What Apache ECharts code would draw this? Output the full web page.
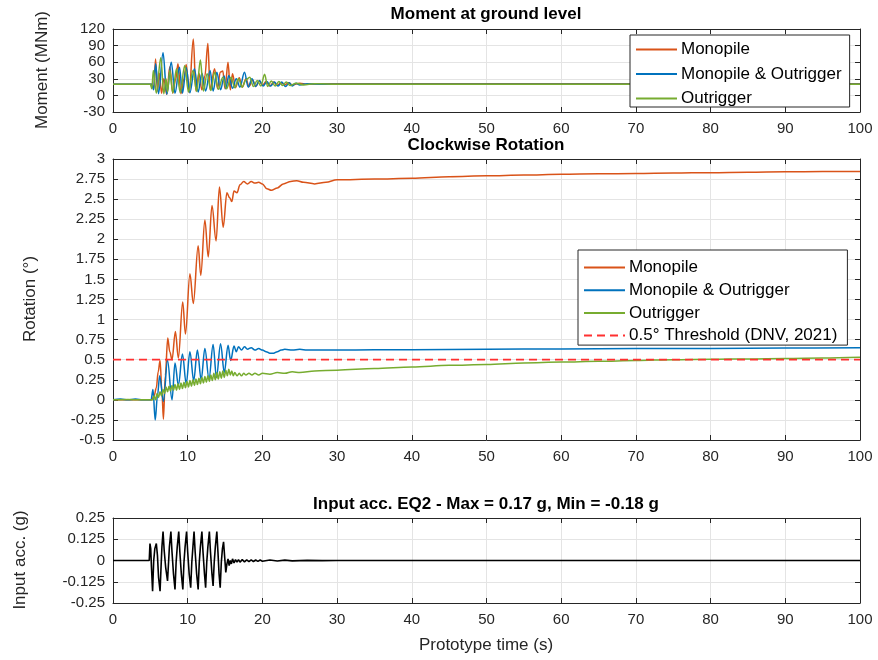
<!DOCTYPE html>
<html>
<head>
<meta charset="utf-8">
<script src="https://cdn.jsdelivr.net/npm/echarts@6/dist/echarts.min.js"></script>
<style>
  html, body { margin: 0; padding: 0; background: #fff; }
  #chart { width: 878px; height: 660px; }
</style>
</head>
<body>
<div id="chart"></div>
<script>
// time axis shared by the three panels
const timeTicks = { min: 0, max: 100, interval: 10 };
const momentTicks = { min: -30, max: 120, interval: 30 };
const rotationTicks = { min: -0.5, max: 3, interval: 0.25 };
const accTicks = { min: -0.25, max: 0.25, interval: 0.125 };

const seriesNames = ["Monopile", "Monopile & Outrigger", "Outrigger", "0.5° Threshold (DNV, 2021)"];

// moment at ground level (MNm), [time s, value]
const momentMono = [[0,20],[5.2,20],[5.45,12],[5.7,66],[5.95,8],[6.2,40],[6.5,4],[6.8,30],[7.2,2],[7.6,52],[8.0,4],[8.4,30],[8.7,57],[9.1,3],[9.5,30],[9.8,56],[10.2,5],[10.75,102],[11.1,8],[11.5,40],[11.9,10],[12.3,35],[12.7,94],[13.0,10],[13.6,48],[14.0,12],[14.35,42],[14.7,44],[15.0,12],[15.4,60],[15.7,10],[16.0,39],[16.4,14],[16.9,32],[17.3,15],[17.8,30],[18.2,16],[18.7,28],[19.1,16],[19.6,26],[20.0,18],[20.5,25],[21,17],[21.5,24],[22,18],[22.5,23],[23,19],[23.5,23],[24,19],[25,22],[26,20],[28,21],[30,21],[40,21],[50,21],[60,21],[70,21],[80,21],[90,21],[100,21]];
const momentBoth = [[0,20],[5.2,20],[5.45,10],[5.7,57],[6.1,3],[6.7,77],[7.2,2],[7.8,60],[8.3,4],[8.9,51],[9.3,4],[9.8,50],[10.3,5],[10.9,48],[11.4,6],[11.9,40],[12.4,8],[13.0,45],[13.4,8],[13.9,42],[14.4,10],[14.9,35],[15.1,12],[15.5,36],[16.0,13],[16.5,30],[17.0,15],[17.6,42],[18.1,15],[18.6,30],[19.1,16],[19.6,27],[20.1,17],[20.6,25],[21.1,17],[21.6,24],[22.1,17],[22.6,24],[23.1,16],[23.6,23],[24.0,17],[24.5,22],[25,19],[26,21],[28,20],[30,20],[40,20],[50,20],[60,20],[70,20],[80,20],[90,20],[100,20]];
const momentOut = [[0,20],[5.0,20],[5.2,12],[5.4,45],[5.8,4],[6.4,68],[6.8,3],[7.1,30],[7.3,6],[7.6,45],[8.0,5],[8.5,48],[9.0,5],[9.6,54],[10.1,6],[10.7,45],[11.2,7],[11.7,64],[12.1,8],[12.6,39],[13.1,9],[13.6,42],[14.1,11],[14.7,33],[15.2,12],[15.8,33],[16.3,14],[16.8,30],[17.3,15],[17.8,28],[18.3,33],[18.8,16],[19.3,27],[19.8,17],[20.3,38],[20.7,16],[21.2,26],[21.7,17],[22.2,25],[22.7,18],[23.2,24],[23.7,18],[24.5,22],[25.5,19],[27,21],[30,20],[40,20],[50,20],[60,20],[70,20],[80,20],[90,20],[100,20]];

// clockwise rotation (deg), [time s, value]
const rotMono = [[0,0],[5.2,0],[5.5,0.05],[5.8,0.15],[6.05,0.35],[6.3,0.49],[6.55,0.1],[6.75,-0.24],[7.0,0.3],[7.33,0.77],[7.6,0.6],[7.9,0.5],[8.35,0.85],[8.75,0.52],[9.33,1.22],[9.7,0.82],[10.3,1.57],[10.75,1.2],[11.4,1.92],[11.75,1.55],[12.3,2.24],[12.75,1.78],[13.25,2.42],[13.8,1.98],[14.25,2.65],[14.75,2.15],[15.25,2.58],[15.6,2.52],[15.9,2.47],[16.2,2.6],[16.6,2.58],[17.0,2.68],[17.5,2.72],[18.0,2.69],[18.5,2.72],[19.0,2.7],[19.5,2.71],[20.0,2.69],[20.6,2.63],[21.2,2.61],[22.0,2.64],[22.8,2.69],[23.8,2.72],[24.6,2.73],[25.5,2.71],[27,2.69],[28.5,2.71],[30,2.74],[35,2.75],[40,2.76],[45,2.78],[50,2.79],[55,2.8],[60,2.81],[65,2.815],[70,2.82],[75,2.825],[80,2.83],[85,2.835],[90,2.84],[95,2.845],[100,2.845]];
const rotBoth = [[0,0],[1,0.01],[2,0],[3,0.01],[4,0],[5.1,0],[5.35,0.13],[5.65,-0.25],[5.95,0.05],[6.25,0.3],[6.75,-0.02],[7.3,0.49],[7.9,0.0],[8.3,0.46],[8.75,0.18],[9.3,0.57],[9.8,0.2],[10.3,0.6],[10.8,0.24],[11.3,0.62],[11.8,0.25],[12.3,0.64],[12.85,0.26],[13.4,0.69],[13.85,0.28],[14.4,0.7],[14.9,0.34],[15.4,0.68],[15.75,0.49],[16.2,0.67],[16.5,0.6],[16.8,0.66],[17.2,0.62],[17.6,0.66],[18,0.63],[18.5,0.65],[19,0.62],[19.5,0.64],[20,0.62],[20.5,0.6],[21,0.58],[21.5,0.58],[22,0.6],[22.5,0.62],[23,0.63],[24,0.62],[25,0.63],[26,0.62],[28,0.62],[30,0.62],[35,0.625],[40,0.625],[50,0.63],[60,0.635],[70,0.64],[80,0.64],[90,0.645],[100,0.65]];
const rotOut = [[0,0],[2,0.005],[4,0],[5.3,0],[5.5,0.05],[5.7,0.0],[5.9,0.08],[6.1,0.03],[6.3,0.1],[6.5,0.05],[6.7,0.13],[6.9,0.08],[7.1,0.16],[7.3,0.1],[7.5,0.17],[7.7,0.11],[7.9,0.18],[8.1,0.12],[8.3,0.19],[8.5,0.12],[8.7,0.2],[8.9,0.13],[9.1,0.21],[9.3,0.14],[9.5,0.22],[9.7,0.15],[9.9,0.23],[10.1,0.16],[10.3,0.24],[10.5,0.17],[10.7,0.25],[10.9,0.18],[11.1,0.26],[11.3,0.19],[11.5,0.27],[11.7,0.2],[11.9,0.28],[12.1,0.21],[12.3,0.29],[12.5,0.22],[12.7,0.3],[12.9,0.23],[13.1,0.31],[13.3,0.24],[13.5,0.33],[13.7,0.25],[13.9,0.34],[14.1,0.26],[14.3,0.35],[14.5,0.27],[14.7,0.36],[14.9,0.28],[15.1,0.37],[15.3,0.3],[15.5,0.38],[15.7,0.31],[15.9,0.36],[16.1,0.3],[16.3,0.34],[16.6,0.3],[16.9,0.33],[17.2,0.3],[17.5,0.33],[17.8,0.31],[18.2,0.33],[18.6,0.31],[19,0.33],[19.5,0.31],[20,0.33],[21,0.32],[22,0.34],[23,0.33],[24,0.35],[25,0.34],[27,0.36],[30,0.37],[35,0.39],[40,0.41],[45,0.43],[50,0.44],[55,0.46],[60,0.47],[65,0.48],[70,0.49],[75,0.5],[80,0.505],[85,0.51],[90,0.515],[95,0.52],[100,0.53]];
const rotThreshold = [[0,0.5],[100,0.5]];

// input acceleration (g), [time s, value]
const inputAcc = [[0,0],[4.85,0],[4.95,0.1],[5.05,0.07],[5.15,-0.04],[5.3,-0.18],[5.45,0.0],[5.6,0.07],[5.8,0.1],[5.95,0.03],[6.1,-0.1],[6.3,-0.18],[6.45,-0.02],[6.55,0.08],[6.7,0.17],[6.85,0.06],[7.05,-0.04],[7.3,-0.12],[7.45,0.0],[7.55,0.08],[7.75,0.17],[7.9,0.05],[8.1,-0.08],[8.3,-0.17],[8.45,-0.01],[8.6,0.08],[8.8,0.17],[8.95,0.05],[9.15,-0.08],[9.35,-0.17],[9.5,-0.01],[9.65,0.08],[9.85,0.17],[10.0,0.05],[10.2,-0.08],[10.4,-0.16],[10.55,-0.01],[10.7,0.08],[10.85,0.17],[11.0,0.05],[11.2,-0.08],[11.4,-0.17],[11.55,-0.01],[11.7,0.08],[11.9,0.17],[12.05,0.05],[12.25,-0.08],[12.4,-0.16],[12.55,-0.01],[12.7,0.08],[12.9,0.17],[13.05,0.05],[13.25,-0.08],[13.4,-0.15],[13.55,-0.01],[13.7,0.08],[13.9,0.17],[14.05,0.05],[14.2,-0.08],[14.35,-0.16],[14.5,-0.01],[14.65,0.07],[14.8,0.11],[14.95,0.02],[15.1,-0.07],[15.25,-0.02],[15.4,0.01],[15.55,-0.03],[15.7,0.0],[15.85,-0.02],[16.0,0.01],[16.2,-0.015],[16.4,0.005],[16.6,-0.01],[16.8,0.005],[17.0,-0.01],[17.3,0.005],[17.6,-0.008],[17.9,0.004],[18.2,-0.006],[18.5,0.004],[18.8,-0.006],[19.1,0.003],[19.4,-0.005],[19.7,0.003],[20,-0.004],[21,0.003],[22,-0.003],[23,0.002],[24,-0.002],[26,0.001],[28,-0.001],[30,0],[100,0]];

const ORANGE = "#D95319", BLUE = "#0072BD", GREEN = "#77AC30";
const AXIS = "#262626";
const FONT = "Liberation Sans";

const grids = [
  { left: 113, right: 18, top: 29, height: 83 },
  { left: 113, right: 18, top: 159, height: 281 },
  { left: 113, right: 18, top: 518, height: 85 }
];
const yTicks = [momentTicks, rotationTicks, accTicks];

const xAxes = [];
const yAxes = [];
grids.forEach((g, i) => {
  xAxes.push({
    gridIndex: i, type: "value", position: "bottom", ...timeTicks,
    axisLine: { show: true, onZero: false, lineStyle: { color: AXIS, width: 1 } },
    axisTick: { show: true, inside: true, length: 5, lineStyle: { color: AXIS } },
    axisLabel: { fontSize: 15, color: AXIS, fontFamily: FONT, margin: 9 },
    splitLine: { show: true, lineStyle: { color: "#e4e4e4", width: 1 } }
  });
  xAxes.push({
    gridIndex: i, type: "value", position: "top", ...timeTicks,
    axisLine: { show: true, onZero: false, lineStyle: { color: AXIS, width: 1 } },
    axisTick: { show: true, inside: true, length: 5, lineStyle: { color: AXIS } },
    axisLabel: { show: false }, splitLine: { show: false }
  });
  yAxes.push({
    gridIndex: i, type: "value", position: "left", ...yTicks[i],
    axisLine: { show: true, onZero: false, lineStyle: { color: AXIS, width: 1 } },
    axisTick: { show: true, inside: true, length: 5, lineStyle: { color: AXIS } },
    axisLabel: { fontSize: 15, color: AXIS, fontFamily: FONT, margin: 8 },
    splitLine: { show: true, lineStyle: { color: "#e4e4e4", width: 1 } }
  });
  yAxes.push({
    gridIndex: i, type: "value", position: "right", ...yTicks[i],
    axisLine: { show: true, onZero: false, lineStyle: { color: AXIS, width: 1 } },
    axisTick: { show: true, inside: true, length: 5, lineStyle: { color: AXIS } },
    axisLabel: { show: false }, splitLine: { show: false }
  });
});

function line(name, data, color, panel, extra) {
  return Object.assign({
    name: name, type: "line", data: data,
    xAxisIndex: panel * 2, yAxisIndex: panel * 2,
    symbol: "none", smooth: 0.35, smoothMonotone: "x",
    lineStyle: { color: color, width: 1.5 },
    itemStyle: { color: color },
    silent: true
  }, extra || {});
}

const legendBase = {
  orient: "vertical",
  backgroundColor: "#fff",
  borderColor: AXIS, borderWidth: 1, borderRadius: 0,
  itemWidth: 41, itemHeight: 14,
  itemStyle: { opacity: 0 },
  textStyle: { fontSize: 17, color: "#000", fontFamily: FONT, padding: [0, 0, 0, -1] },
  selectedMode: false
};

const titleFont = "bold 17px " + FONT;
const labelFont = "17px " + FONT;

const chart = echarts.init(document.getElementById("chart"), null, { renderer: "canvas" });
chart.setOption({
  animation: false,
  backgroundColor: "#fff",
  grid: grids,
  xAxis: xAxes,
  yAxis: yAxes,
  legend: [
    Object.assign({}, legendBase, { left: 630, top: 35, itemGap: 7.5, padding: [6, 8, 0, 5], data: seriesNames.slice(0, 3) }),
    Object.assign({}, legendBase, { left: 578, top: 250, itemGap: 5.7, padding: [9, 10, 1, 5], data: seriesNames })
  ],
  graphic: [
    { type: "text", x: 486, y: 14, style: { text: "Moment at ground level", font: titleFont, fill: "#000", align: "center", verticalAlign: "middle" } },
    { type: "text", x: 486, y: 145, style: { text: "Clockwise Rotation", font: titleFont, fill: "#000", align: "center", verticalAlign: "middle" } },
    { type: "text", x: 486, y: 504, style: { text: "Input acc. EQ2 - Max = 0.17 g, Min = -0.18 g", font: titleFont, fill: "#000", align: "center", verticalAlign: "middle" } },
    { type: "text", x: 486, y: 645, style: { text: "Prototype time (s)", font: labelFont, fill: AXIS, align: "center", verticalAlign: "middle" } },
    { type: "text", x: 42, y: 70, rotation: Math.PI / 2, style: { text: "Moment (MNm)", font: labelFont, fill: AXIS, align: "center", verticalAlign: "middle" } },
    { type: "text", x: 30, y: 299, rotation: Math.PI / 2, style: { text: "Rotation (°)", font: labelFont, fill: AXIS, align: "center", verticalAlign: "middle" } },
    { type: "text", x: 20, y: 560, rotation: Math.PI / 2, style: { text: "Input acc. (g)", font: labelFont, fill: AXIS, align: "center", verticalAlign: "middle" } }
  ],
  series: [
    line(seriesNames[0], momentMono, ORANGE, 0),
    line(seriesNames[1], momentBoth, BLUE, 0),
    line(seriesNames[2], momentOut, GREEN, 0),
    line(seriesNames[0], rotMono, ORANGE, 1),
    line(seriesNames[1], rotBoth, BLUE, 1),
    line(seriesNames[2], rotOut, GREEN, 1),
    line(seriesNames[3], rotThreshold, "#ff3030", 1, { smooth: false, lineStyle: { color: "#ff3030", width: 1.7, type: [8, 5] } }),
    line("Input acc.", inputAcc, "#000", 2, { smooth: false, lineStyle: { color: "#000", width: 1.6 } })
  ]
});
</script>
</body>
</html>
